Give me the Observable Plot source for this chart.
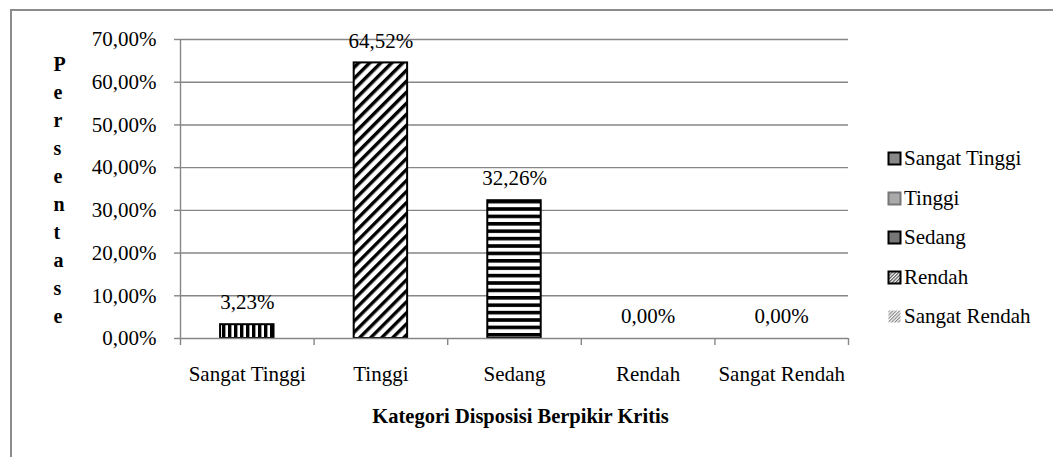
<!DOCTYPE html>
<html>
<head>
<meta charset="utf-8">
<script src="https://cdn.jsdelivr.net/npm/d3@7"></script>
<script src="https://cdn.jsdelivr.net/npm/@observablehq/plot@0.6"></script>
<style>
  html, body { margin: 0; padding: 0; background: #fff; overflow: hidden; }
  #wrap { position: relative; width: 1053px; height: 457px; overflow: hidden; font-family: "Liberation Serif", "Times New Roman", serif; }
  #frame { position: absolute; left: 10px; top: 9px; width: 1100px; height: 520px; border: 2px solid #8c8c8c; box-sizing: border-box; pointer-events: none; }
  #chart { position: absolute; left: 0; top: 0; }
  #legend { position: absolute; left: 887px; top: 139px; font-size: 21px; color: #000; }
  #legend .row { display: flex; align-items: center; height: 39.5px; }
  #legend svg { margin-right: 2px; }
</style>
</head>
<body>
<div id="wrap">
  <div id="chart"></div>
  <div id="legend"></div>
  <div id="frame"></div>
</div>
<script>
// ---- data ----
const categories = ["Sangat Tinggi", "Tinggi", "Sedang", "Rendah", "Sangat Rendah"];
const values = [3.23, 64.52, 32.26, 0.00, 0.00];
const patterns = ["pVert", "pDiag", "pHoriz", "none", "none"];
const yTicks = [0, 10, 20, 30, 40, 50, 60, 70];
const xTitle = "Kategori Disposisi Berpikir Kritis";
const yTitle = "Persentase";

const fmt = v => v.toFixed(2).replace(".", ",") + "%";
const data = categories.map((c, i) => ({cat: c, i, value: values[i], pat: patterns[i]}));
const boundaries = d3.range(categories.length + 1).map(k => k - 0.5);
const HALF = 0.2; // bar half-width in band units

const grid = "#868686";

const plot = Plot.plot({
  width: 1053,
  height: 457,
  marginLeft: 180,
  marginRight: 205,
  marginTop: 39,
  marginBottom: 119,
  style: {fontFamily: "'Liberation Serif', 'Times New Roman', serif", fontSize: "21px", color: "#000", background: "transparent"},
  x: {domain: [-0.5, categories.length - 0.5], axis: null},
  y: {domain: [0, 70], axis: null},
  marks: [
    Plot.ruleY(yTicks.filter(t => t > 0), {stroke: grid, strokeWidth: 1.4}),
    // bars
    ...data.filter(d => d.pat !== "none").map(d =>
      Plot.rectY([d], {x1: r => r.i - HALF, x2: r => r.i + HALF, y1: 0, y2: "value",
        fill: `url(#${d.pat})`, stroke: "#000", strokeWidth: 2})
    ),
    // axes
    Plot.ruleY([0], {stroke: grid, strokeWidth: 1.4}),
    Plot.ruleX([-0.5], {y1: 0, y2: 70, stroke: grid, strokeWidth: 1.4}),
    Plot.axisY({ticks: yTicks, tickSize: 6, tickPadding: 18, stroke: grid, strokeWidth: 1.4,
      tickFormat: t => fmt(t), fontSize: 21, color: "#000", label: null}),
    Plot.axisX({ticks: boundaries, tickSize: 7, tickFormat: () => "", stroke: grid, strokeWidth: 1.4, label: null}),
    Plot.axisX({ticks: d3.range(categories.length), tickSize: 0, tickPadding: 28,
      tickFormat: i => categories[i], fontSize: 21, label: null}),
    // data labels
    Plot.text(data, {x: "i", y: "value", text: d => fmt(d.value), dy: -22, fontSize: 21, fill: "#000"}),
    // titles
    Plot.text([xTitle], {frameAnchor: "bottom", dy: 84, dx: 6, fontWeight: "bold", fontSize: 20.5, fill: "#000"}),
    Plot.text([yTitle.split("").join("\n")], {frameAnchor: "left", dx: -127, dy: -1, fontWeight: "bold",
      fontSize: 20, lineHeight: 1.4, fill: "#000"})
  ]
});

// pattern definitions
const defs = `
<defs>
  <pattern id="pVert" patternUnits="userSpaceOnUse" width="6" height="6">
    <rect width="6" height="6" fill="#fff"/><rect x="0" width="3.4" height="6" fill="#000"/>
  </pattern>
  <pattern id="pDiag" patternUnits="userSpaceOnUse" width="7.8" height="7.8" patternTransform="rotate(45)">
    <rect width="7.8" height="7.8" fill="#fff"/><rect x="0" width="3.4" height="7.8" fill="#000"/>
  </pattern>
  <pattern id="pHoriz" patternUnits="userSpaceOnUse" width="7.4" height="7.4">
    <rect width="7.4" height="7.4" fill="#fff"/><rect y="0" width="7.4" height="3.6" fill="#000"/>
  </pattern>
  <pattern id="lgHatch" patternUnits="userSpaceOnUse" width="2.4" height="2.4" patternTransform="rotate(45)">
    <rect width="2.4" height="2.4" fill="#fff"/><rect width="1.2" height="2.4" fill="#555"/>
  </pattern>
  <pattern id="lgHatchLight" patternUnits="userSpaceOnUse" width="2.4" height="2.4" patternTransform="rotate(45)">
    <rect width="2.4" height="2.4" fill="#fff"/><rect width="1.2" height="2.4" fill="#888"/>
  </pattern>
</defs>`;
plot.insertAdjacentHTML("afterbegin", defs);
document.getElementById("chart").appendChild(plot);

// legend (Excel-style swatches)
const swatches = [
  {stroke: "#000", sw: 2, fill: "#888"},
  {stroke: "#777", sw: 2, fill: "#aaa"},
  {stroke: "#000", sw: 2, fill: "#777"},
  {stroke: "#000", sw: 2, fill: "url(#lgHatch)"},
  {stroke: "none", sw: 0, fill: "url(#lgHatchLight)"}
];
const legend = document.getElementById("legend");
categories.forEach((c, k) => {
  const s = swatches[k];
  const row = document.createElement("div");
  row.className = "row";
  row.innerHTML = `<svg width="15" height="15">
    <rect x="1.5" y="1.5" width="12" height="12" fill="${s.fill}" stroke="${s.stroke}" stroke-width="${s.sw}"/></svg><span>${c}</span>`;
  legend.appendChild(row);
});
</script>
</body>
</html>
